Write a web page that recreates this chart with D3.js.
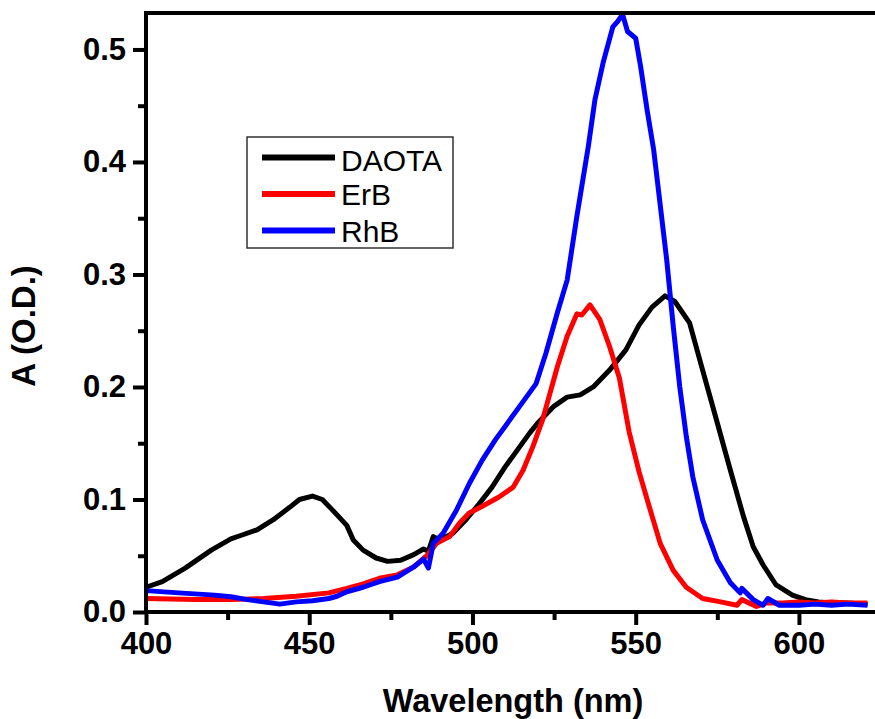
<!DOCTYPE html>
<html>
<head>
<meta charset="utf-8">
<script src="https://cdn.jsdelivr.net/npm/d3@7"></script>
<style>
  body { margin: 0; background: #fff; }
  svg { display: block; }
  .tick text { font-family: "Liberation Sans", Arial, sans-serif; font-weight: bold; font-size: 31px; fill: #000; }
</style>
</head>
<body>
<script>
// wavelength (nm) and absorbance (O.D.), one pair of arrays per dye
let daotaWl = [400, 405, 412, 420, 426, 429, 434, 439, 444, 447, 451, 454, 457, 461.5, 463.5, 466.5, 470.5, 474, 478, 482, 485, 486.5, 488, 490, 494, 498, 502, 506, 510, 514.5, 517.5, 520, 525, 529, 533, 537, 542, 547, 551, 555, 559, 562, 566.5, 570.5, 575, 579, 583, 586, 589, 593, 598, 602, 606, 610, 615, 621];
let daotaA = [0.022, 0.027, 0.039, 0.055, 0.065, 0.068, 0.073, 0.082, 0.093, 0.100, 0.103, 0.100, 0.091, 0.077, 0.064, 0.055, 0.048, 0.045, 0.046, 0.051, 0.056, 0.054, 0.067, 0.064, 0.070, 0.082, 0.096, 0.111, 0.129, 0.147, 0.159, 0.168, 0.183, 0.191, 0.193, 0.200, 0.215, 0.233, 0.255, 0.271, 0.281, 0.276, 0.257, 0.215, 0.168, 0.126, 0.085, 0.058, 0.042, 0.024, 0.015, 0.011, 0.009, 0.008, 0.008, 0.007];

let erbWl = [400, 415, 426, 436, 446, 456, 461.5, 466.5, 471.5, 477, 482, 486, 489, 493, 496, 499, 503, 508, 512.5, 515.5, 518.5, 521.5, 526, 529, 532, 533.5, 536, 539, 542, 545, 548, 551, 553.5, 557.5, 561.5, 565.5, 570.5, 576, 581, 582.5, 587, 590, 595, 600, 605, 610, 615, 621];
let erbA = [0.012, 0.011, 0.011, 0.012, 0.014, 0.017, 0.021, 0.025, 0.030, 0.033, 0.040, 0.050, 0.061, 0.067, 0.079, 0.088, 0.094, 0.102, 0.111, 0.126, 0.147, 0.171, 0.218, 0.245, 0.265, 0.264, 0.273, 0.260, 0.236, 0.208, 0.160, 0.125, 0.100, 0.061, 0.037, 0.022, 0.012, 0.009, 0.006, 0.011, 0.005, 0.008, 0.008, 0.009, 0.008, 0.009, 0.008, 0.008];

let rhbWl = [400, 410, 421, 426, 431, 436, 441, 446, 451, 456, 458.5, 461.5, 466.5, 471.5, 477, 482, 485, 486.5, 488, 491, 495, 499, 503, 507, 511.5, 514.5, 519.5, 522.5, 526, 529, 532, 535.5, 537.5, 540, 543, 544.5, 546, 547.5, 550, 551.5, 553.5, 555.5, 559.5, 561.5, 563.5, 565.5, 567.5, 570.5, 575, 579, 582, 582.5, 586, 589, 590.5, 594, 600, 605, 610, 615, 621];
let rhbA = [0.019, 0.017, 0.015, 0.0135, 0.011, 0.009, 0.007, 0.009, 0.010, 0.012, 0.014, 0.018, 0.022, 0.027, 0.031, 0.040, 0.047, 0.039, 0.061, 0.070, 0.090, 0.114, 0.135, 0.153, 0.171, 0.183, 0.203, 0.230, 0.266, 0.295, 0.352, 0.414, 0.455, 0.488, 0.520, 0.525, 0.531, 0.516, 0.510, 0.485, 0.446, 0.411, 0.313, 0.254, 0.200, 0.156, 0.120, 0.082, 0.046, 0.026, 0.017, 0.021, 0.011, 0.006, 0.012, 0.006, 0.006, 0.007, 0.006, 0.007, 0.006];

let seriesNames = ["DAOTA", "ErB", "RhB"];
let seriesColors = ["#000000", "#ff0000", "#0000ff"];
let xTicks = [400, 450, 500, 550, 600];
let xMinor = [425, 475, 525, 575];
let yTicks = [0.0, 0.1, 0.2, 0.3, 0.4, 0.5];
let yMinor = [0.05, 0.15, 0.25, 0.35, 0.45];

window.onload = function() {
  let svg = d3.select("body").append("svg")
    .attr("width", 875)
    .attr("height", 719);

  let left = 146, right = 875, top = 13, bottom = 612;

  let xScale = d3.scaleLinear().domain([400, 623.3]).range([left, right]);
  let yScale = d3.scaleLinear().domain([0, 0.5324]).range([bottom, top]);

  // curves: black first, blue on top
  let wls = [daotaWl, erbWl, rhbWl];
  let abs = [daotaA, erbA, rhbA];
  let line = d3.line()
    .x((d) => xScale(d[0]))
    .y((d) => yScale(d[1]));

  wls.forEach(function(wl, i) {
    let pts = wl.map((w, j) => [w, abs[i][j]]);
    svg.append("path")
      .datum(pts)
      .attr("fill", "none")
      .attr("stroke", seriesColors[i])
      .attr("stroke-width", 5)
      .attr("stroke-linejoin", "round")
      .attr("d", line);
  });

  // minor ticks
  svg.append("g")
    .attr("transform", "translate(0," + bottom + ")")
    .call(d3.axisBottom(xScale).tickValues(xMinor).tickSize(8).tickFormat(""))
    .call((g) => g.select(".domain").remove())
    .selectAll("line").attr("stroke-width", 4);

  svg.append("g")
    .attr("transform", "translate(" + left + ",0)")
    .call(d3.axisLeft(yScale).tickValues(yMinor).tickSize(8).tickFormat(""))
    .call((g) => g.select(".domain").remove())
    .selectAll("line").attr("stroke-width", 4);

  // major ticks + labels
  let xAxis = svg.append("g")
    .attr("transform", "translate(0," + bottom + ")")
    .call(d3.axisBottom(xScale).tickValues(xTicks).tickSize(13).tickSizeOuter(0).tickPadding(7).tickFormat(d3.format("d")));
  xAxis.select(".domain").remove();
  xAxis.selectAll("line").attr("stroke-width", 4);

  let yAxis = svg.append("g")
    .attr("transform", "translate(" + left + ",0)")
    .call(d3.axisLeft(yScale).tickValues(yTicks).tickSize(13).tickSizeOuter(0).tickPadding(7).tickFormat(d3.format(".1f")));
  yAxis.select(".domain").remove();
  yAxis.selectAll("line").attr("stroke-width", 4);

  // frame: left, bottom and top lines
  svg.append("line")
    .attr("x1", left).attr("x2", left)
    .attr("y1", top - 2).attr("y2", bottom + 2)
    .attr("stroke", "#000").attr("stroke-width", 4);
  svg.append("line")
    .attr("x1", left - 2).attr("x2", right)
    .attr("y1", bottom).attr("y2", bottom)
    .attr("stroke", "#000").attr("stroke-width", 4);
  svg.append("line")
    .attr("x1", left - 2).attr("x2", right)
    .attr("y1", top).attr("y2", top)
    .attr("stroke", "#000").attr("stroke-width", 4);

  // axis titles
  svg.append("text")
    .attr("x", 513)
    .attr("y", 712)
    .attr("text-anchor", "middle")
    .style("font-family", "'Liberation Sans', Arial, sans-serif")
    .style("font-weight", "bold")
    .style("font-size", "32.5px")
    .text("Wavelength (nm)");

  svg.append("text")
    .attr("transform", "translate(35,326)rotate(-90)")
    .attr("text-anchor", "middle")
    .style("font-family", "'Liberation Sans', Arial, sans-serif")
    .style("font-weight", "bold")
    .style("font-size", "33px")
    .text("A (O.D.)");

  // legend
  svg.append("rect")
    .attr("x", 247).attr("y", 137)
    .attr("width", 206).attr("height", 111)
    .attr("fill", "#fff")
    .attr("stroke", "#333")
    .attr("stroke-width", 1.5);

  let legendLineY = [157.5, 194, 230.5];
  let legendTextY = [170.7, 204.5, 241.7];
  seriesNames.forEach(function(name, i) {
    svg.append("line")
      .attr("x1", 262).attr("x2", 335)
      .attr("y1", legendLineY[i]).attr("y2", legendLineY[i])
      .attr("stroke", seriesColors[i])
      .attr("stroke-width", 6);
    svg.append("text")
      .attr("x", 341)
      .attr("y", legendTextY[i])
      .style("font-family", "'Liberation Sans', Arial, sans-serif")
      .style("font-size", "30px")
      .text(name);
  });
};
</script>
</body>
</html>
